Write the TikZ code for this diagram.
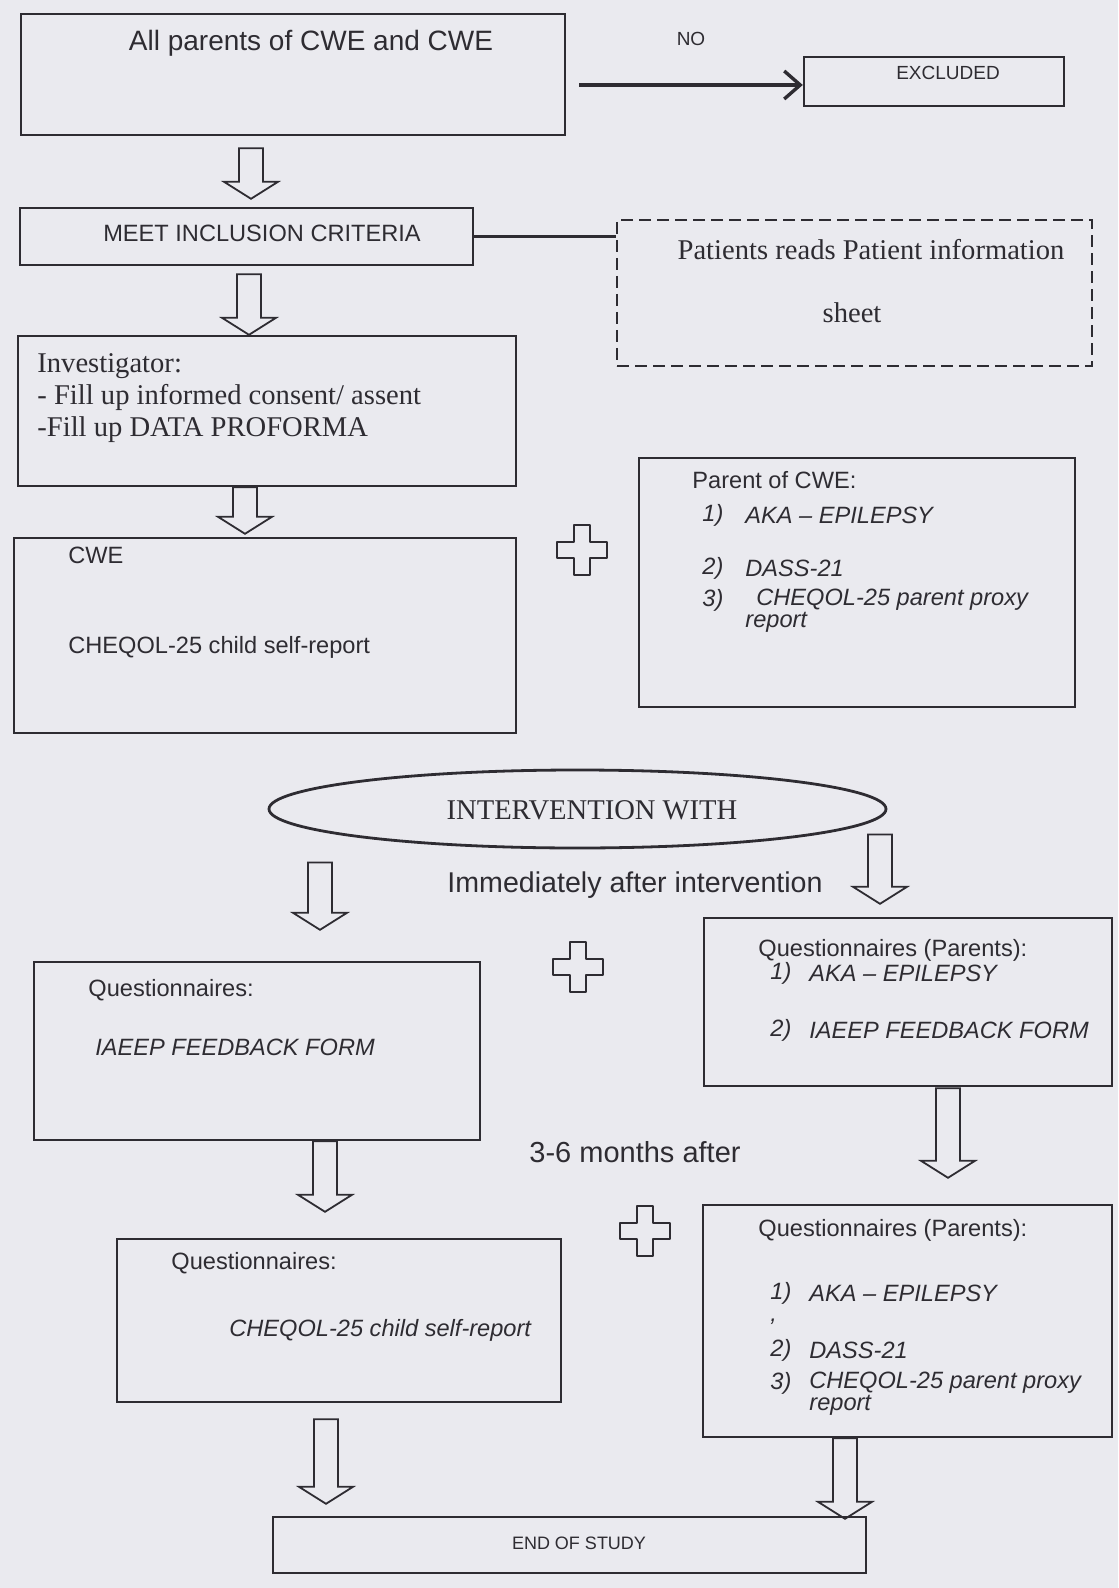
\documentclass[tikz,border=0pt]{standalone}
\usepackage{fontspec}
\setmainfont{Liberation Sans}
\newfontfamily\timesface{Liberation Serif}
\usetikzlibrary{calc}
\usetikzlibrary{arrows.meta}
\usetikzlibrary{shapes.geometric}

\definecolor{paper}{RGB}{234,234,239}
\definecolor{ink}{RGB}{46,44,50}

\begin{document}
\begin{tikzpicture}[x=0.5pt,y=-0.5pt,
    box/.style={draw=ink, line width=1.2pt, inner sep=0pt},
    txt/.style={text=ink, inner sep=0pt, font=\fontsize{11.8}{14}\selectfont},
    item/.style={txt, anchor=west, font=\fontsize{11.8}{14}\selectfont\itshape},
    serif/.style={text=ink, inner sep=0pt, font=\fontsize{14.3}{16}\selectfont\timesface},
    hollowarrow/.style={draw=ink, line width=0.9pt,
        to path={let \p1=(\tikztostart), \p2=(\tikztotarget) in
        (\x1-6pt,\y1) -- (\x1-6pt,\y2+8.5pt) -- (\x1-13.5pt,\y2+8.5pt) -- (\x1,\y2)
        -- (\x1+13.5pt,\y2+8.5pt) -- (\x1+6pt,\y2+8.5pt) -- (\x1+6pt,\y1) -- cycle}},
    plussign/.pic={\draw[ink, line width=1.4pt, line join=round] (-8,-25) -- (8,-25) -- (8,-8) -- (25,-8) -- (25,8)
        -- (8,8) -- (8,25) -- (-8,25) -- (-8,8) -- (-25,8) -- (-25,-8) -- (-8,-8) -- cycle;}
]
    % page
    \path[use as bounding box, fill=paper] (0,0) rectangle (1118,1588);

    % boxes
    \node[box, minimum width=272pt, minimum height=60.5pt] (allparents) at (293,74.5) {};
    \node[box, minimum width=130pt, minimum height=24.5pt] (excl) at (934,81.5) {};
    \node[box, minimum width=226.5pt, minimum height=28.5pt] (incl) at (246.5,236.5) {};
    \node[box, dash pattern=on 6pt off 3pt, minimum width=237.5pt, minimum height=73pt] (info) at (854.5,293) {};
    \node[box, minimum width=249pt, minimum height=75pt] (inv) at (267,411) {};
    \node[box, minimum width=251pt, minimum height=97.5pt] (cwe) at (265,635.5) {};
    \node[box, minimum width=218pt, minimum height=124.5pt] (parent) at (857,582.5) {};
    \node[box, ellipse, line width=1.4pt, minimum width=308.5pt, minimum height=39pt] (intervention) at (577.5,809) {};
    \node[box, minimum width=223pt, minimum height=89pt] (qchildone) at (257,1051) {};
    \node[box, minimum width=204pt, minimum height=84pt] (qparone) at (908,1002) {};
    \node[box, minimum width=222pt, minimum height=81.5pt] (qchildtwo) at (339,1320.5) {};
    \node[box, minimum width=204.5pt, minimum height=116pt] (qpartwo) at (907.5,1321) {};
    \node[box, minimum width=296.5pt, minimum height=28pt] (studyend) at (569.5,1545) {};

    % texts
    \node[txt, font=\fontsize{14}{16}\selectfont] (allparentstxt) at (311,43) {All parents of CWE and CWE};
    \node[txt, font=\fontsize{9.5}{11}\selectfont] (excltxt) at (948,73) {EXCLUDED};
    \node[txt] (incltxt) at (262,233) {MEET INCLUSION CRITERIA};
    \node[serif] (infotxt) at (871,250) {Patients reads Patient information};
    \node[serif] (infosheet) at (852,313) {sheet};
    \node[serif, anchor=north west, align=left] (invtxt) at (37,353)
        {Investigator:\\- Fill up informed consent/ assent\\-Fill up DATA PROFORMA};
    \node[txt, anchor=west] (cwetitle) at (68,555) {CWE};
    \node[txt, anchor=west] (cweform) at (68,647) {CHEQOL-25 child self-report};

    \node[txt, anchor=west] (parenttitle) at (692,480) {Parent of CWE:};
    \node[item] (parentnoa) at (702,515) {1)};
    \node[item] (parentaka) at (745,515) {AKA -- EPILEPSY};
    \node[item] (parentnob) at (702,568) {2)};
    \node[item] (parentdass) at (745,568) {DASS-21};
    \node[item] (parentnoc) at (702,600) {3)};
    \node[item] (parentcheq) at (756,600) {CHEQOL-25 parent proxy};
    \node[item] (parentrep) at (745,622) {report};

    \node[serif] (interventiontxt) at (592,810) {INTERVENTION WITH};
    \node[txt, font=\fontsize{14.3}{16}\selectfont] (immediately) at (635,885) {Immediately after intervention};

    \node[txt, anchor=west] (qchildonetitle) at (88,990) {Questionnaires:};
    \node[item] (qchildoneform) at (95,1047) {IAEEP FEEDBACK FORM};

    \node[txt, anchor=west] (qparonetitle) at (758,950) {Questionnaires (Parents):};
    \node[item] (qparonenoa) at (770,973) {1)};
    \node[item] (qparoneaka) at (809,973) {AKA -- EPILEPSY};
    \node[item] (qparonenob) at (770,1030) {2)};
    \node[item] (qparoneform) at (809,1030) {IAEEP FEEDBACK FORM};

    \node[txt, font=\fontsize{14.5}{16}\selectfont] (months) at (635,1152) {3-6 months after};

    \node[txt, anchor=west] (qchildtwotitle) at (171,1263) {Questionnaires:};
    \node[item] (qchildtwoform) at (229,1330) {CHEQOL-25 child self-report};

    \node[txt, anchor=west] (qpartwotitle) at (758,1230) {Questionnaires (Parents):};
    \node[item] (qpartwonoa) at (770,1293) {1)};
    \node[item] (qpartwoaka) at (809,1293) {AKA -- EPILEPSY};
    \node[item] (qpartwocomma) at (770,1322) {,};
    \node[item] (qpartwonob) at (770,1350) {2)};
    \node[item] (qpartwodass) at (809,1350) {DASS-21};
    \node[item] (qpartwonoc) at (770,1383) {3)};
    \node[item] (qpartwocheq) at (809,1383) {CHEQOL-25 parent proxy};
    \node[item] (qpartworep) at (809,1405) {report};

    \node[txt, font=\fontsize{9}{11}\selectfont] (studyendtxt) at (579,1543) {END OF STUDY};

    % connectors
    \draw[ink, line width=1.7pt, -{Straight Barb[length=8pt,width=14pt]}]
        ($(allparents.east)+(13,10.5)$) -- ($(excl.west)+(0,3.5)$)
        node[midway, above=19pt, txt, font=\fontsize{9.5}{11}\selectfont] (nolabel) {NO};
    \draw[ink, line width=1.2pt] (incl.east) -- (incl.east -| info.west);

    \draw[hollowarrow] ($(allparents.south)+(-42,12)$) to ($(incl.north)+(0,-8)$);
    \draw[hollowarrow] ($(incl.south)+(2.5,8)$) to (inv.north);
    \draw[hollowarrow] ($(inv.south)+(-22,0)$) to ($(cwe.north)+(0,-3)$);
    \draw[hollowarrow] ($(intervention.south)+(-257.5,13)$) to ($(qchildone.north)+(0,-31)$);
    \draw[hollowarrow] ($(intervention.south)+(302.5,-15)$) to ($(qparone.north)+(0,-13)$);
    \draw[hollowarrow] ($(qchildone.south)+(68,0)$) to ($(qchildtwo.north)+(0,-26)$);
    \draw[hollowarrow] ($(qparone.south)+(40,1)$) to ($(qpartwo.north)+(0,-26)$);
    \draw[hollowarrow] ($(qchildtwo.south)+(-13,16)$) to ($(studyend.north)+(0,-12)$);
    \draw[hollowarrow] ($(qpartwo.south)+(-62.5,0)$) to ($(studyend.north)+(0,3)$);

    % plus signs
    \pic at (582,550) {plussign};
    \pic at (578,967) {plussign};
    \pic at (645,1231) {plussign};
\end{tikzpicture}
\end{document}
